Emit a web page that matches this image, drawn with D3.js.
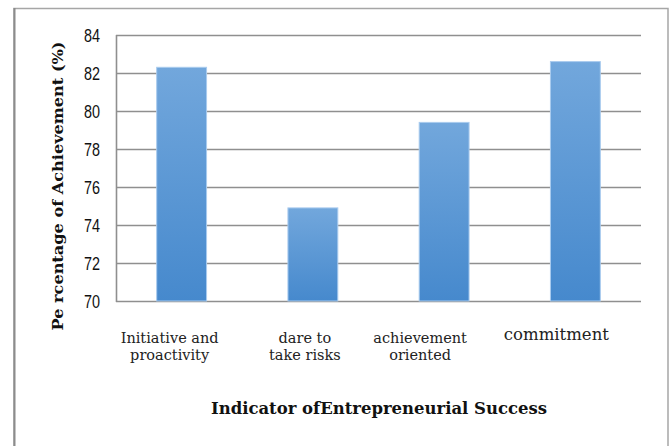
<!DOCTYPE html>
<html><head><meta charset="utf-8">
<script src="https://cdn.jsdelivr.net/npm/d3@7"></script>
<style>html,body{margin:0;padding:0;background:#fff;}</style>
</head><body>
<svg id="c" width="670" height="446"></svg>
<script>
const categories = ["Initiative and|proactivity", "dare to|take risks", "achievement|oriented", "commitment"];
const values = [82.3, 74.9, 79.4, 82.6];
const yTicks = [70, 72, 74, 76, 78, 80, 82, 84];
const yTitle = "Pe rcentage of Achievement (%)";
const xTitle = "Indicator ofEntrepreneurial Success";

const svg = d3.select("#c");
const m = {left: 116, right: 641, top: 35, bottom: 301};

// outer frame
svg.append("rect").attr("x", 14).attr("y", 8.5).attr("width", 654).attr("height", 450)
  .attr("fill", "none").attr("stroke", "#a6a6a6").attr("stroke-width", 1.5);
svg.append("line").attr("x1", 14.5).attr("x2", 14.5).attr("y1", 8).attr("y2", 446)
  .attr("stroke", "#8c8c8c").attr("stroke-width", 2);

const x = d3.scaleBand().domain(categories).range([m.left, m.right]).paddingInner(0.62).paddingOuter(0.31);
const y = d3.scaleLinear().domain([70, 84]).range([m.bottom, m.top]);

const defs = svg.append("defs");
const g = defs.append("linearGradient").attr("id", "bg").attr("x1", 0).attr("x2", 0).attr("y1", 0).attr("y2", 1);
g.append("stop").attr("offset", "0%").attr("stop-color", "#72a7dc");
g.append("stop").attr("offset", "100%").attr("stop-color", "#4689cd");

// gridlines
svg.append("g").selectAll("line").data(yTicks).join("line")
  .attr("x1", m.left).attr("x2", m.right)
  .attr("y1", d => Math.round(y(d)) + 0.5).attr("y2", d => Math.round(y(d)) + 0.5)
  .attr("stroke", "#8f8f8f").attr("stroke-width", 1.6);
svg.append("line").attr("x1", m.left + 0.5).attr("x2", m.left + 0.5)
  .attr("y1", m.top).attr("y2", m.bottom + 1)
  .attr("stroke", "#8f8f8f").attr("stroke-width", 1.6);

// bars
svg.append("g").selectAll("rect").data(values).join("rect")
  .attr("x", (d, i) => x(categories[i]))
  .attr("width", x.bandwidth())
  .attr("y", d => y(d))
  .attr("height", d => y(70) - y(d))
  .attr("fill", "url(#bg)")
  .attr("stroke", "#a9cbee").attr("stroke-width", 1);

// y tick labels
const yAxis = d3.axisLeft(y).tickValues(yTicks).tickSize(0).tickPadding(0);
const ya = svg.append("g").attr("transform", `translate(${m.left - 16},0)`).call(yAxis);
ya.select(".domain").remove();
ya.selectAll("text").attr("font-family", "'Liberation Sans', Arial, sans-serif")
  .attr("font-size", 18).attr("fill", "#111").attr("x", 0).attr("dy", "0.36em")
  .attr("transform", "scale(0.8,1)");

// x tick labels
const shift = [-12, -8, -24, -19];
const lbl = svg.append("g");
categories.forEach((c, i) => {
  const lines = c.split("|");
  const cx = x(c) + x.bandwidth() / 2 + shift[i];
  const t = lbl.append("text").attr("text-anchor", "middle")
    .attr("font-family", "'DejaVu Serif', serif")
    .attr("font-size", lines.length === 1 ? 16.5 : 14.5).attr("fill", "#222");
  lines.forEach((ln, k) => {
    t.append("tspan").attr("x", cx).attr("y", (lines.length === 1 ? 340 : 343) + k * 17).text(ln);
  });
});

// axis titles
svg.append("text").attr("transform", "translate(63,186) rotate(-90)")
  .attr("text-anchor", "middle").attr("font-family", "'DejaVu Serif', serif")
  .attr("font-weight", "bold").attr("font-size", 15).attr("fill", "#111")
  .attr("textLength", 289).attr("lengthAdjust", "spacingAndGlyphs").text(yTitle);
svg.append("text").attr("x", 379).attr("y", 414)
  .attr("text-anchor", "middle").attr("font-family", "'DejaVu Serif', serif")
  .attr("font-weight", "bold").attr("font-size", 16).attr("fill", "#111")
  .attr("textLength", 336).attr("lengthAdjust", "spacingAndGlyphs").text(xTitle);
</script>
</body></html>
